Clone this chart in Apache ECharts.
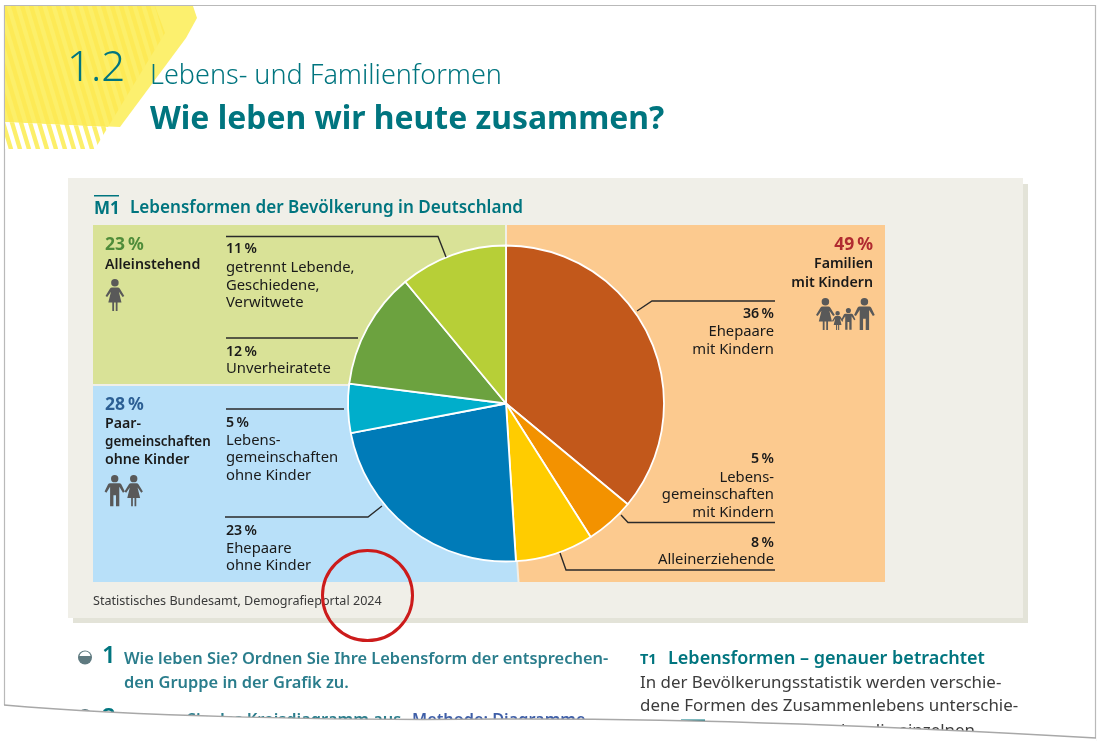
<!DOCTYPE html>
<html lang="de">
<head>
<meta charset="utf-8">
<title>Lebensformen der Bevölkerung in Deutschland</title>
<script src="https://cdn.jsdelivr.net/npm/echarts@6/dist/echarts.min.js"></script>
<style>
  html, body { margin: 0; padding: 0; background: #fff; }
  #chart { width: 1100px; height: 750px; }
</style>
</head>
<body>
<div id="chart"></div>
<script>
// Shares of the population by household type, clockwise from twelve o'clock.
const sliceNames = [
  'Ehepaare mit Kindern',
  'Lebensgemeinschaften mit Kindern',
  'Alleinerziehende',
  'Ehepaare ohne Kinder',
  'Lebensgemeinschaften ohne Kinder',
  'Unverheiratete',
  'getrennt Lebende, Geschiedene, Verwitwete'
];
const sliceValues = [36, 5, 8, 23, 5, 12, 11];
const sliceColors = ['#c2581b', '#f39200', '#ffcc00', '#007bb8', '#00aecb', '#6ca23f', '#b7cf37'];

// Percent labels, with a thin space before the sign.
const pct = v => v + '\u2009%';

const FONT = '"Noto Sans", "Open Sans", sans-serif';
const TEAL = '#00757f';
const INK = '#1a1a1a';
const ICON = '#595959';

// Diagonal stripe tile used for the chapter marker.
function stripes(base, stripe) {
  const c = document.createElement('canvas');
  c.width = 9; c.height = 30;
  const g = c.getContext('2d');
  g.fillStyle = base; g.fillRect(0, 0, 9, 30);
  g.fillStyle = stripe;
  for (const o of [-9, 0, 9]) {
    g.beginPath();
    g.moveTo(o, 0); g.lineTo(o + 4.5, 0); g.lineTo(o + 13.5, 30); g.lineTo(o + 9, 30);
    g.closePath(); g.fill();
  }
  return { image: c, repeat: 'repeat' };
}

function txt(x, y, text, weight, size, fill, align) {
  return {
    type: 'text', x, y: y + 2, z: 5, silent: true,
    style: {
      text, fill,
      font: `${weight} ${size}px ${FONT}`,
      textAlign: align || 'left',
      textVerticalAlign: 'middle'
    }
  };
}
const poly = (points, fill, z) => ({ type: 'polygon', z: z || 1, silent: true, shape: { points }, style: { fill } });
const rect = (x, y, w, h, fill, z) => ({ type: 'rect', z: z || 1, silent: true, shape: { x, y, width: w, height: h }, style: { fill } });
const leader = (points, color) => ({
  type: 'polyline', z: 4, silent: true, shape: { points },
  style: { stroke: color || '#2a2a2a', lineWidth: 1.4, fill: null }
});

// Custom outlines: pictograms on a 20 x 34 grid, plus the curled sheet edge.
const HEAD = 'M10 0a4 4 0 1 0 .01 0z';
const EDGE = 'M4 705C130 716 330 721 500 719C700 718 900 727 1096 738';
const OUTLINES = {
  man: HEAD + 'M5 9h10q1.5 0 2.3 1.4L21 18l-2 1.2-4-6.5V34h-3.6V22h-2.8v12H5V12.7L1 19.2-1 18l3.7-7.6Q3.5 9 5 9z',
  woman: HEAD + 'M7 9h6q1.5 0 2.3 1.4L20 18l-1.8 1.2-4-5.6L17 25h-4.2v9H10.9v-9H9.1v9H7.2v-9H3l2.8-11.4-4 5.6L0 18l4.7-7.6Q5.5 9 7 9z',
  halfDisc: 'M79.5 656a5.6 5.6 0 0 1 11 0z',
  sheetMask: 'M0 750V704.5L' + EDGE.slice(1) + 'V750Z',
  sheetEdge: EDGE
};
for (const name of Object.keys(OUTLINES)) {
  echarts.graphic.registerShape(name, echarts.graphic.extendPath(OUTLINES[name], {}));
}
const figure = (type, x, y, s) => ({
  type, z: 5, silent: true, x, y, scaleX: s, scaleY: s, shape: {}, style: { fill: ICON }
});

const BODY = 14.8;
const STRONG = 14.2;

const elements = [
  // Page sheet
  { type: 'rect', z: 0, silent: true, shape: { x: 4.5, y: 5.5, width: 1091, height: 735 },
    style: { fill: '#fff', stroke: '#b9b9b9', lineWidth: 1.2 } },

  // Chapter marker
  poly([[5, 6], [193, 6], [197, 18], [186, 38], [120, 127], [5, 122]], '#fcf06e'),
  poly([[5, 6], [155, 6], [165, 33], [108, 127], [5, 122]], stripes('#fcef69', '#fdea56'), 2),
  poly([[5, 122], [108, 127], [95, 149], [5, 149]], stripes('#ffffff', '#fcef6a'), 2),

  txt(67, 67, '1.2', 300, 42, TEAL),
  txt(150, 74, 'Lebens- und Familienformen', 300, 27, TEAL),
  txt(150, 118, 'Wie leben wir heute zusammen?', 700, 31.9, TEAL),

  // Material card with its drop shadow
  rect(73, 184, 955, 439, '#e3e3d8'),
  rect(68, 178, 955, 440, '#f0efe8', 2),
  rect(94, 195, 25, 1.5, TEAL, 3),
  txt(94, 207, 'M1', 700, 17, TEAL),
  txt(130, 206, 'Lebensformen der Bevölkerung in Deutschland', 600, 17.1, TEAL),

  // Group panels behind the pie
  rect(93, 225, 412, 159, '#d9e297', 3),
  poly([[93, 386], [505, 386], [506, 404], [517.5, 582], [93, 582]], '#b8e0f9', 3),
  poly([[507, 225], [885, 225], [885, 582], [519.5, 582], [507, 404]], '#fcca8f', 3),

  // Alleinstehend
  txt(105, 243, pct(23), 700, 17.5, '#4f8c3a'),
  txt(105, 263, 'Alleinstehend', 600, STRONG, INK),
  figure('woman', 105.5, 279, 0.94),

  leader([[226, 236.5], [438, 236.5], [446, 257]]),
  txt(226, 247, pct(11), 600, STRONG, INK),
  txt(226, 266, 'getrennt Lebende,', 400, BODY, INK),
  txt(226, 284, 'Geschiedene,', 400, BODY, INK),
  txt(226, 301, 'Verwitwete', 400, BODY, INK),

  leader([[226, 338], [358, 338]]),
  txt(226, 350, pct(12), 600, STRONG, INK),
  txt(226, 367, 'Unverheiratete', 400, BODY, INK),

  // Paargemeinschaften ohne Kinder
  txt(105, 403, pct(28), 700, 17.5, '#2c5f94'),
  txt(105, 422, 'Paar-', 600, STRONG, INK),
  txt(105, 440, 'gemeinschaften', 600, 13.4, INK),
  txt(105, 458, 'ohne Kinder', 600, STRONG, INK),
  figure('man', 105.5, 475, 0.92),
  figure('woman', 124.5, 475, 0.92),

  leader([[226, 409], [344, 409]]),
  txt(226, 421, pct(5), 600, STRONG, INK),
  txt(226, 439, 'Lebens-', 400, BODY, INK),
  txt(226, 456, 'gemeinschaften', 400, BODY, INK),
  txt(226, 474, 'ohne Kinder', 400, BODY, INK),

  leader([[225, 517], [368, 517], [382, 506]]),
  txt(226, 529, pct(23), 600, STRONG, INK),
  txt(226, 547, 'Ehepaare', 400, BODY, INK),
  txt(226, 564, 'ohne Kinder', 400, BODY, INK),

  // Familien mit Kindern
  txt(873, 243, pct(49), 700, 17.5, '#b02a30', 'right'),
  txt(873, 262, 'Familien', 600, STRONG, INK, 'right'),
  txt(873, 281, 'mit Kindern', 600, STRONG, INK, 'right'),
  figure('woman', 816, 298, 0.94),
  figure('man', 855, 298, 0.94),
  figure('woman', 832, 311, 0.56),
  figure('man', 842, 308, 0.64),

  leader([[637, 311], [652, 301], [775, 301]]),
  txt(774, 312, pct(36), 600, STRONG, INK, 'right'),
  txt(774, 330, 'Ehepaare', 400, BODY, INK, 'right'),
  txt(774, 348, 'mit Kindern', 400, BODY, INK, 'right'),

  txt(774, 457, pct(5), 600, STRONG, INK, 'right'),
  txt(774, 476, 'Lebens-', 400, BODY, INK, 'right'),
  txt(774, 493, 'gemeinschaften', 400, BODY, INK, 'right'),
  txt(774, 511, 'mit Kindern', 400, BODY, INK, 'right'),
  leader([[621, 515], [628, 522.5], [775, 522.5]]),

  txt(774, 541, pct(8), 600, STRONG, INK, 'right'),
  txt(774, 558, 'Alleinerziehende', 400, BODY, INK, 'right'),
  leader([[560, 553], [566, 570], [775, 570]]),

  // Source line and the hand-drawn circle around it
  txt(93, 599, 'Statistisches Bundesamt, Demografieportal 2024', 400, 12.6, '#3a3a3a'),
  { type: 'circle', z: 6, silent: true, shape: { cx: 367.5, cy: 595.5, r: 45 },
    style: { fill: null, stroke: '#cc1b1b', lineWidth: 3 } },

  // Task list
  { type: 'circle', z: 5, silent: true, shape: { cx: 85, cy: 657.5, r: 7 }, style: { fill: '#5f7a80' } },
  { type: 'halfDisc', z: 5, silent: true, shape: {}, style: { fill: '#fff' } },
  txt(102, 654, '1', 600, 24, TEAL),
  txt(124, 657, 'Wie leben Sie? Ordnen Sie Ihre Lebensform der entsprechen-', 600, 16.4, '#2a7d8c'),
  txt(124, 681, 'den Gruppe in der Grafik zu.', 600, 16.4, '#2a7d8c'),
  { type: 'circle', z: 5, silent: true, shape: { cx: 85, cy: 716, r: 7 }, style: { fill: '#5f7a80' } },
  txt(102, 716, '2', 600, 24, TEAL),
  txt(124, 718, 'Werten Sie das Kreisdiagramm aus.', 600, 16.4, '#2a7d8c'),
  txt(412, 718, 'Methode: Diagramme', 600, 16.3, '#3f5fa8'),

  // Text column
  txt(640, 658, 'T1', 700, 14.5, TEAL),
  txt(668, 657, 'Lebensformen – genauer betrachtet', 600, 18, TEAL),
  txt(640, 681, 'In der Bevölkerungsstatistik werden verschie-', 400, 16.9, '#3c3c3c'),
  txt(640, 704, 'dene Formen des Zusammenlebens unterschie-', 400, 16.9, '#3c3c3c'),
  rect(681, 719.5, 24, 1.8, TEAL, 5),
  txt(975, 729, 'den. Dabei werden die einzelnen', 400, 16.9, '#3c3c3c', 'right'),

  // Curled lower edge of the sheet hides whatever runs past it
  { type: 'sheetMask', z: 8, silent: true, shape: {}, style: { fill: '#fff' } },
  { type: 'sheetEdge', z: 9, silent: true, shape: {}, style: { fill: null, stroke: '#a8a8a8', lineWidth: 1.4 } }
];

const chart = echarts.init(document.getElementById('chart'), null, { renderer: 'canvas' });
chart.setOption({
  animation: false,
  backgroundColor: '#ffffff',
  tooltip: { show: false },
  graphic: { elements },
  series: [{
    type: 'pie',
    z: 3,
    center: [506, 403.5],
    radius: [0, 158],
    startAngle: 90,
    clockwise: true,
    silent: true,
    label: { show: false },
    labelLine: { show: false },
    itemStyle: { borderColor: '#ffffff', borderWidth: 1.8 },
    data: sliceNames.map((name, i) => ({
      name, value: sliceValues[i], itemStyle: { color: sliceColors[i] }
    }))
  }]
});
</script>
</body>
</html>
